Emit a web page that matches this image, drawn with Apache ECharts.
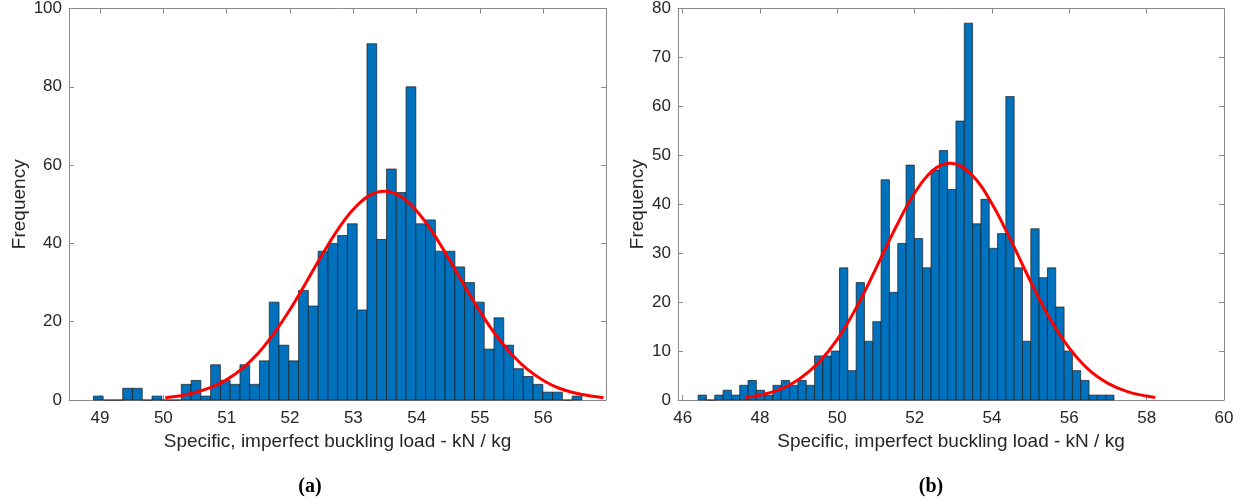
<!DOCTYPE html>
<html><head><meta charset="utf-8">
<script src="https://cdn.jsdelivr.net/npm/echarts@6/dist/echarts.min.js"></script>
<style>html,body{margin:0;padding:0;background:#fff}#c{width:1245px;height:501px}</style>
</head><body><div id="c"></div>
<script>
// ---- data ----
const leftCounts = [1,0,0,3,3,0,1,0,0,4,5,1,9,5,4,9,4,10,25,14,10,28,24,38,40,42,45,23,91,41,59,53,80,45,46,38,38,34,30,25,13,21,14,8,6,4,2,2,0,1];
const leftBinStart = 48.895;
const leftBinWidth = 0.1543;
const rightCounts = [1,0,1,2,1,3,4,2,1,3,4,3,4,3,9,9,10,27,6,24,12,16,45,22,32,48,33,27,47,51,43,57,77,36,41,31,34,62,27,12,35,25,27,19,10,6,4,1,1,1];
const rightBinStart = 46.40;
const rightBinWidth = 0.2151;
const leftFitX = [50.03,50.25,50.5,50.75,51,51.25,51.5,51.75,52,52.25,52.5,52.75,53,53.25,53.49,53.75,54,54.25,54.5,54.75,55,55.25,55.5,55.75,56,56.25,56.5,56.75,56.95];
const leftFitY = [0.6,1.0,1.9,3.2,5.2,8.1,12.0,17.1,23.1,29.9,36.9,43.4,48.7,52.2,53.3,52.0,48.3,42.9,36.3,29.3,22.6,16.6,11.7,7.8,5.0,3.0,1.8,1.0,0.6];
const rightFitX = [47.61,48,48.5,49,49.5,50,50.5,51,51.5,52,52.5,52.92,53.5,54,54.5,55,55.5,56,56.5,57,57.5,58,58.22];
const rightFitY = [0.5,1.0,2.1,4.2,7.5,12.4,19.0,26.9,35.1,42.3,47.1,48.4,45.8,40.1,32.4,24.2,16.6,10.6,6.2,3.4,1.7,0.8,0.5];
const leftXRange = [48.51, 56.99];
const rightXRange = [45.88, 60];
const leftXStep = 1, rightXStep = 2;
const leftYMax = 100, leftYStep = 20;
const rightYMax = 80, rightYStep = 10;
const xAxisTitle = 'Specific, imperfect buckling load - kN / kg';
const yAxisTitle = 'Frequency';
const panelLabels = ['(a)', '(b)'];

// ---- styling ----
const FONT = '"Liberation Sans", Arial, Helvetica, sans-serif';
const AXIS_COLOR = '#8a8a8a';
const TEXT_COLOR = '#262626';

function xAxes(gi, range, step, nameGap) {
  const base = {
    type: 'value', gridIndex: gi, min: range[0], max: range[1],
    minInterval: step, maxInterval: step, splitNumber: Math.round((range[1]-range[0])/step),
    axisLine: {show: true, onZero: false, lineStyle: {color: AXIS_COLOR, width: 1}},
    axisTick: {show: true, inside: true, length: 5, lineStyle: {color: AXIS_COLOR}},
    splitLine: {show: false}
  };
  return [
    Object.assign({}, base, {
      position: 'bottom',
      axisLabel: {show: true, margin: 10, color: TEXT_COLOR, fontFamily: FONT, fontSize: 17, showMinLabel: false, showMaxLabel: range[1] % step === 0},
      name: xAxisTitle, nameLocation: 'middle', nameGap: nameGap,
      nameTextStyle: {color: TEXT_COLOR, fontFamily: FONT, fontSize: 19}
    }),
    Object.assign({}, base, {position: 'top', axisLabel: {show: false}})
  ];
}
function yAxes(gi, ymax, step, nameGap) {
  const base = {
    type: 'value', gridIndex: gi, min: 0, max: ymax, interval: step,
    axisLine: {show: true, onZero: false, lineStyle: {color: AXIS_COLOR, width: 1}},
    axisTick: {show: true, inside: true, length: 5, lineStyle: {color: AXIS_COLOR}},
    splitLine: {show: false}
  };
  return [
    Object.assign({}, base, {
      position: 'left',
      axisLabel: {show: true, margin: 7, color: TEXT_COLOR, fontFamily: FONT, fontSize: 17},
      name: yAxisTitle, nameLocation: 'middle', nameGap: nameGap, nameRotate: 90,
      nameTextStyle: {color: TEXT_COLOR, fontFamily: FONT, fontSize: 19}
    }),
    Object.assign({}, base, {position: 'right', axisLabel: {show: false}})
  ];
}

function bins(counts, start, width) {
  return counts.map((c, i) => [start + i * width, start + (i + 1) * width, c]);
}
function renderBar(params, api) {
  const a = api.coord([api.value(0), api.value(2)]);
  const b = api.coord([api.value(1), 0]);
  return {
    type: 'rect',
    shape: {x: a[0], y: a[1], width: b[0] - a[0], height: b[1] - a[1]},
    style: {fill: '#0072BD', stroke: '#1c1c1c', lineWidth: 0.7}
  };
}
function fitLine(xs, ys, xi, yi) {
  return {
    type: 'line', xAxisIndex: xi, yAxisIndex: yi,
    data: xs.map((x, i) => [x, ys[i]]),
    smooth: 0.4, showSymbol: false, silent: true, z: 5,
    lineStyle: {color: '#FF0000', width: 3}
  };
}

const chart = echarts.init(document.getElementById('c'), null, {renderer: 'canvas'});
chart.setOption({
  backgroundColor: '#ffffff',
  animation: false,
  grid: [
    {left: 69, top: 6, width: 537, height: 394},
    {left: 678, top: 6, width: 546, height: 394}
  ],
  xAxis: [].concat(xAxes(0, leftXRange, leftXStep, 31), xAxes(1, rightXRange, rightXStep, 31)),
  yAxis: [].concat(yAxes(0, leftYMax, leftYStep, 40), yAxes(1, rightYMax, rightYStep, 31)),
  series: [
    {type: 'custom', xAxisIndex: 0, yAxisIndex: 0, renderItem: renderBar, encode: {x: [0, 1], y: 2},
     data: bins(leftCounts, leftBinStart, leftBinWidth), z: 2},
    fitLine(leftFitX, leftFitY, 0, 0),
    {type: 'custom', xAxisIndex: 2, yAxisIndex: 2, renderItem: renderBar, encode: {x: [0, 1], y: 2},
     data: bins(rightCounts, rightBinStart, rightBinWidth), z: 2},
    fitLine(rightFitX, rightFitY, 2, 2)
  ],
  graphic: [
    {type: 'text', x: 310, y: 487, style: {text: panelLabels[0], font: 'bold 20px "Liberation Serif", "Times New Roman", serif', fill: '#000', textAlign: 'center', textVerticalAlign: 'middle'}},
    {type: 'text', x: 931, y: 487, style: {text: panelLabels[1], font: 'bold 20px "Liberation Serif", "Times New Roman", serif', fill: '#000', textAlign: 'center', textVerticalAlign: 'middle'}}
  ]
});
</script></body></html>
